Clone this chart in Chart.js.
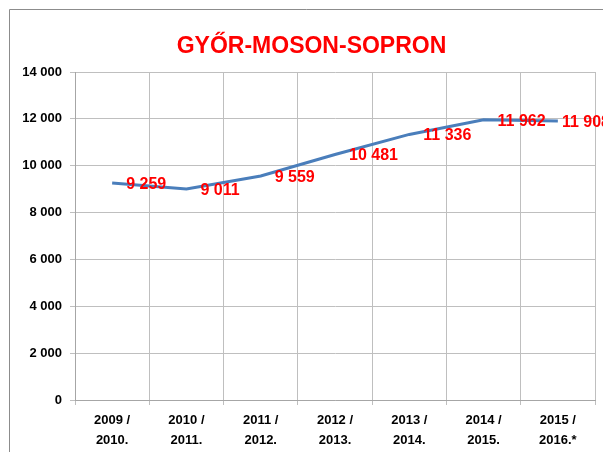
<!DOCTYPE html>
<html>
<head>
<meta charset="utf-8">
<script src="https://cdn.jsdelivr.net/npm/chart.js@4/dist/chart.umd.min.js"></script>
<style>
html,body{margin:0;padding:0;background:#fff;}
#wrap{width:603px;height:452px;position:relative;}
</style>
</head>
<body>
<div id="wrap"><canvas id="c" width="603" height="452"></canvas></div>
<script>
const titleText = "GYŐR-MOSON-SOPRON";
const categories = [
  ["2009 /", "2010."],
  ["2010 /", "2011."],
  ["2011 /", "2012."],
  ["2012 /", "2013."],
  ["2013 /", "2014."],
  ["2014 /", "2015."],
  ["2015 /", "2016.*"]
];
const values = [9259, 9011, 9559, 10481, 11336, 11962, 11908];
const yTicks = [0, 2000, 4000, 6000, 8000, 10000, 12000, 14000];

function fmt(v){ return String(v).replace(/\B(?=(\d{3})+(?!\d))/g, " "); }

// the original chart frame extends a little past the right edge of the picture
const FRAME_RIGHT = 610;

const frame = {
  id: "frame",
  beforeDraw(chart){
    const ctx = chart.ctx;
    ctx.save();
    ctx.fillStyle = "#ffffff";
    ctx.fillRect(0,0,chart.width,chart.height);
    ctx.strokeStyle = "#8c8c8c";
    ctx.lineWidth = 1;
    ctx.beginPath();
    ctx.moveTo(9.5, chart.height + 2);
    ctx.lineTo(9.5, 9.5);
    ctx.lineTo(chart.width + 2, 9.5);
    ctx.stroke();
    ctx.font = "bold 23px 'Liberation Sans', Arial, sans-serif";
    ctx.fillStyle = "#ff0000";
    ctx.textAlign = "center";
    ctx.textBaseline = "alphabetic";
    ctx.fillText(titleText, 311.5, 53);
    ctx.restore();
  }
};

const labels = {
  id: "valueLabels",
  afterDatasetsDraw(chart){
    const ctx = chart.ctx;
    const meta = chart.getDatasetMeta(0);
    ctx.save();
    ctx.font = "bold 16px 'Liberation Sans', Arial, sans-serif";
    ctx.fillStyle = "#ff0000";
    ctx.textAlign = "left";
    ctx.textBaseline = "middle";
    meta.data.forEach((pt, i) => {
      const txt = fmt(values[i]);
      const w = ctx.measureText(txt).width;
      const x = Math.min(pt.x + 14, FRAME_RIGHT - w);
      ctx.fillText(txt, x, pt.y + 1.5);
    });
    ctx.restore();
  }
};

new Chart(document.getElementById("c"), {
  type: "line",
  data: {
    labels: categories,
    datasets: [{
      data: values,
      borderColor: "#4a7ebb",
      borderWidth: 3,
      pointRadius: 0,
      tension: 0,
      fill: false
    }]
  },
  options: {
    responsive: false,
    animation: false,
    layout: { padding: { left: 0, right: 8, top: 72, bottom: 0 } },
    plugins: {
      legend: { display: false },
      tooltip: { enabled: false },
      title: { display: false }
    },
    scales: {
      x: {
        offset: true,
        grid: { display: true, offset: true, color: "#bfbfbf", lineWidth: 1, tickLength: 5, drawTicks: true },
        border: { color: "#a6a6a6" },
        ticks: {
          color: "#000",
          font: { family: "'Liberation Sans', Arial, sans-serif", size: 13, weight: "bold", lineHeight: 1.54 },
          padding: 5,
          maxRotation: 0,
          autoSkip: false
        },
        afterFit(s){ s.height = 52; }
      },
      y: {
        min: 0,
        max: 14000,
        afterBuildTicks(s){ s.ticks = yTicks.map(v => ({ value: v })); },
        grid: { color: "#bfbfbf", lineWidth: 1, tickLength: 5 },
        border: { color: "#a6a6a6" },
        ticks: {
          color: "#000",
          font: { family: "'Liberation Sans', Arial, sans-serif", size: 13, weight: "bold" },
          padding: 8,
          callback: v => fmt(v)
        },
        afterFit(s){ s.width = 75; }
      }
    }
  },
  plugins: [frame, labels]
});
</script>
</body>
</html>
